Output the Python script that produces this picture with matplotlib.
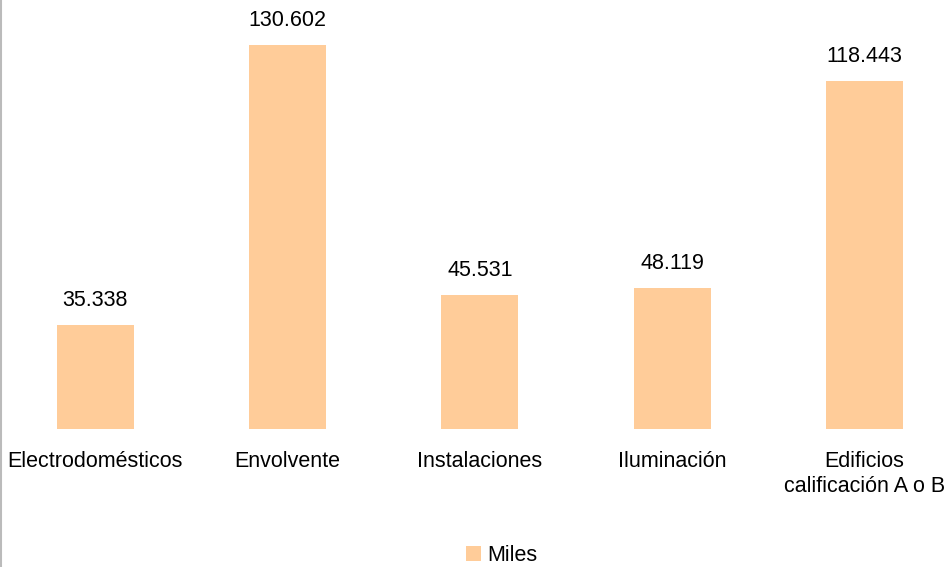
import matplotlib
matplotlib.use('Agg')
import matplotlib.pyplot as plt
import numpy as np

plt.rcParams['font.family'] = ['Liberation Sans', 'DejaVu Sans']

# datos (miles)
categorias = ['Electrodomésticos', 'Envolvente', 'Instalaciones', 'Iluminación',
              'Edificios\ncalificación A o B']
valores = [35.338, 130.602, 45.531, 48.119, 118.443]
serie = 'Miles'

color_barra = '#FFCC99'
fs = 15.5

fig = plt.figure(figsize=(9.52, 5.67), dpi=100)
ax = fig.add_axes([0.0, 0.2434, 1.0, 0.726])

x = np.arange(len(categorias))
barras = ax.bar(x, valores, width=0.4, color=color_barra, label=serie, zorder=2)

ax.set_xlim(-0.494, 4.454)
ax.set_ylim(0, 140)

# etiquetas de valor
for b, v in zip(barras, valores):
    ax.annotate(f'{v:.3f}', xy=(b.get_x() + b.get_width() / 2, v),
                xytext=(0, 10), textcoords='offset points',
                ha='center', va='bottom', fontsize=fs, color='black')

ax.set_xticks(x)
ax.set_xticklabels(categorias, fontsize=fs, linespacing=1.25)
ax.tick_params(axis='x', length=0, pad=16)
ax.set_yticks([])
for s in ax.spines.values():
    s.set_visible(False)

# borde izquierdo gris
fig.add_artist(plt.Line2D([0.001, 0.001], [0.0, 1.0], color='#BBBBBB', linewidth=1.5,
                          transform=fig.transFigure))

fig.legend(loc='lower center', bbox_to_anchor=(0.527, -0.032), frameon=False,
           fontsize=fs, handlelength=0.7, handleheight=0.7, handletextpad=0.3)

fig.savefig('out.png', dpi=100)
